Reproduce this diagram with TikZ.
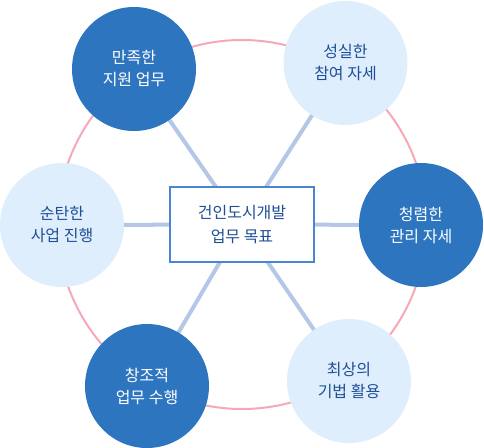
\documentclass[tikz,border=0pt]{standalone}
\usepackage{fontspec}
\setmainfont{Noto Sans CJK KR}
\usetikzlibrary{backgrounds}
\definecolor{darkc}{HTML}{2E75C0}
\definecolor{lightc}{HTML}{DFEEFC}
\definecolor{ringc}{HTML}{F7A8B8}
\definecolor{spokec}{HTML}{B4C7E7}
\definecolor{textd}{HTML}{1E4F96}
\definecolor{boxc}{HTML}{4A86D0}
\begin{document}
\begin{tikzpicture}[x=1pt,y=-1pt,
  goal/.style={circle,minimum size=124pt,inner sep=0pt,align=center,
    font=\fontsize{16pt}{22pt}\selectfont},
  darkgoal/.style={goal,fill=darkc,text=white},
  lightgoal/.style={goal,fill=lightc,text=textd},
  spoke/.style={spokec,line width=4pt},
  ring/.style={ringc,line width=2pt},
  goalbox/.style={draw=boxc,line width=2pt,fill=white,minimum width=144pt,minimum height=75pt,
    align=center,text=textd,font=\fontsize{16pt}{24pt}\selectfont}]
\useasboundingbox (0,0) rectangle (484,447);
\node[goalbox] (box) at (242,224.5) {건인도시개발\\업무 목표};
\node[darkgoal]  (a) at (134,69)  {만족한\\지원 업무};
\node[lightgoal] (b) at (345.5,63) {성실한\\참여 자세};
\node[darkgoal]  (c) at (421,225) {청렴한\\관리 자세};
\node[lightgoal] (d) at (349,381) {최상의\\기법 활용};
\node[darkgoal]  (e) at (147,386) {창조적\\업무 수행};
\node[lightgoal] (f) at (62,225)  {순탄한\\사업 진행};
\begin{pgfonlayer}{background}
\draw[ring] (box.center) circle[radius=184.5pt];
\foreach \n in {a,b,c,d,e,f} \draw[spoke] (box.center) -- (\n.center);
\end{pgfonlayer}
\end{tikzpicture}
\end{document}
